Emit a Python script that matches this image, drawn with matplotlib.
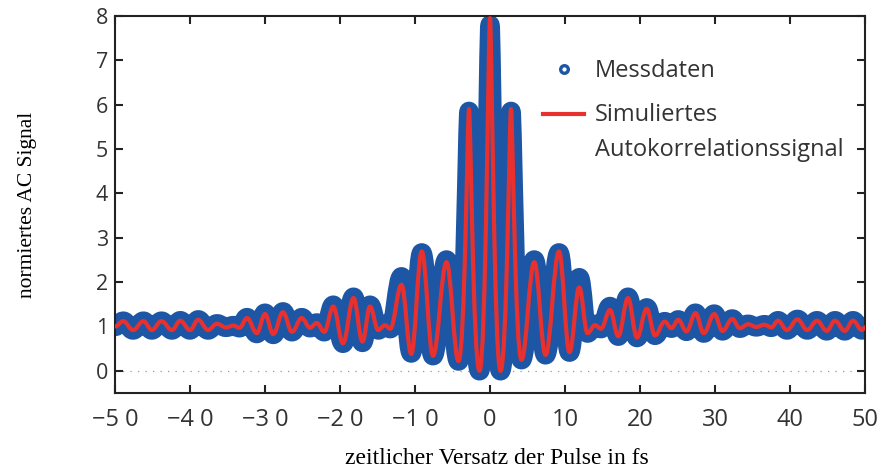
import matplotlib
matplotlib.use("Agg")
import matplotlib.pyplot as plt
from matplotlib.path import Path
from matplotlib.patches import PathPatch
from matplotlib.lines import Line2D
from matplotlib.legend_handler import HandlerLine2D

# ---------------- data ----------------
# extrema of the simulated autocorrelation signal (time delay in fs, normalised signal)
sim_x = [-50.0, -48.9, -47.6, -46.2, -45.1, -43.8, -42.4, -41.3, -40.0, -38.9,
         -37.6, -36.4, -35.2, -34.2, -33.4, -32.4, -31.1, -30.0, -28.9, -27.6,
         -26.4, -25.1, -24.0, -23.1, -22.1, -20.9, -19.6, -18.2, -17.0, -16.0,
         -14.9, -14.0, -13.3, -11.8, -10.5, -9.1, -7.6, -5.8, -4.2, -2.8,
         -1.4, 0.0, 1.4, 2.8, 4.2, 5.9, 7.4, 9.2, 10.6, 11.9,
         13.0, 14.0, 14.8, 16.0, 17.1, 18.4, 19.6, 20.9, 22.0, 23.3,
         24.2, 25.1, 26.2, 27.4, 28.5, 29.9, 31.0, 32.3, 33.3, 34.4,
         35.5, 36.6, 37.5, 38.4, 39.6, 41.0, 42.3, 43.6, 44.9, 46.0,
         47.3, 48.4, 49.6, 50.0]
sim_y = [1.00, 1.12, 0.92, 1.12, 0.92, 1.12, 0.92, 1.13, 0.92, 1.15,
         0.92, 1.06, 0.98, 1.02, 0.97, 1.19, 0.85, 1.28, 0.83, 1.32,
         0.88, 1.19, 0.97, 1.08, 0.88, 1.45, 0.62, 1.64, 0.66, 1.45,
         0.92, 1.03, 0.95, 1.94, 0.38, 2.69, 0.34, 2.45, 0.22, 5.90,
         0.00, 7.95, 0.00, 5.90, 0.25, 2.45, 0.36, 2.69, 0.42, 1.88,
         0.85, 1.03, 0.95, 1.37, 0.78, 1.64, 0.75, 1.40, 0.80, 1.11,
         0.96, 1.15, 0.89, 1.30, 0.85, 1.28, 0.90, 1.17, 0.96, 1.05,
         0.99, 1.04, 0.98, 1.13, 0.92, 1.16, 0.92, 1.13, 0.90, 1.13,
         0.90, 1.13, 0.92, 0.98]

# measured data (same delay positions, values of the blue points)
meas_x = list(sim_x)
meas_y = [1.00, 1.12, 0.92, 1.12, 0.92, 1.12, 0.92, 1.13, 0.92, 1.15,
          0.92, 1.06, 0.98, 1.02, 0.97, 1.20, 0.84, 1.30, 0.82, 1.33,
          0.88, 1.20, 0.97, 1.08, 0.88, 1.48, 0.62, 1.66, 0.64, 1.48,
          0.92, 1.05, 0.95, 2.12, 0.40, 2.66, 0.34, 2.50, 0.22, 5.85,
          0.00, 7.80, 0.00, 5.85, 0.25, 2.50, 0.36, 2.66, 0.42, 2.10,
          0.85, 1.05, 0.95, 1.45, 0.78, 1.66, 0.75, 1.42, 0.80, 1.11,
          0.96, 1.15, 0.89, 1.30, 0.85, 1.28, 0.90, 1.17, 0.96, 1.05,
          0.99, 1.04, 0.98, 1.13, 0.92, 1.16, 0.92, 1.13, 0.90, 1.13,
          0.90, 1.13, 0.92, 0.98]

x_ticks = [-50, -40, -30, -20, -10, 0, 10, 20, 30, 40, 50]
x_tick_labels = ["\u22125 0", "\u22124 0", "\u22123 0", "\u22122 0", "\u22121 0",
                 "0", "10", "20", "30", "40", "50"]
y_ticks = [0, 1, 2, 3, 4, 5, 6, 7, 8]

legend_labels = ["Messdaten", "Simuliertes\nAutokorrelationssignal"]
x_label = "zeitlicher Versatz der Pulse in fs"
y_label = "normiertes AC Signal"

# ---------------- style ----------------
BLUE = "#1d56a5"
RED = "#e8312f"
TXT = "#333333"
SANS = ["Open Sans", "DejaVu Sans"]
SERIF = ["Liberation Serif", "DejaVu Serif"]


def smooth_path(xs, ys):
    """Bezier path through extrema with horizontal tangents."""
    verts = [(xs[0], ys[0])]
    codes = [Path.MOVETO]
    for i in range(len(xs) - 1):
        x0, y0, x1, y1 = xs[i], ys[i], xs[i + 1], ys[i + 1]
        dx = x1 - x0
        if abs(y1 - y0) > 3:          # tall interference fringes: sharp tops
            k_high, k_low = 0.15, 0.6
        else:                         # small fringes: sine-like
            k_high, k_low = 0.38, 0.38
        k0 = k_high if y0 > y1 else k_low
        k1 = k_high if y1 > y0 else k_low
        verts += [(x0 + k0 * dx, y0), (x1 - k1 * dx, y1), (x1, y1)]
        codes += [Path.CURVE4] * 3
    return Path(verts, codes)


class RaisedLineHandler(HandlerLine2D):
    """Put the line handle next to the first line of a two-line label."""
    def __init__(self, raise_pt, **kw):
        super().__init__(**kw)
        self.raise_pt = raise_pt

    def create_artists(self, legend, orig_handle, xdescent, ydescent,
                       width, height, fontsize, trans):
        arts = super().create_artists(legend, orig_handle, xdescent, ydescent,
                                      width, height, fontsize, trans)
        for a in arts:
            a.set_ydata([y + self.raise_pt for y in a.get_ydata()])
        return arts


fig = plt.figure(figsize=(8.79, 4.68), dpi=100)
ax = fig.add_axes([115 / 879, 1 - 393 / 468, 750 / 879, 377 / 468])

ax.axhline(0, color="#999999", lw=0.9, ls=(0, (1, 5)), zorder=1)

# measured data: dense blue band + ring markers
ax.add_patch(PathPatch(smooth_path(meas_x, meas_y), facecolor="none",
                       edgecolor=BLUE, lw=14, capstyle="round",
                       joinstyle="round", zorder=2))
meas_line, = ax.plot(meas_x, meas_y, "o", ms=8, mfc="none", mec=BLUE,
                     mew=2.4, zorder=2.1)

# simulated signal
ax.add_patch(PathPatch(smooth_path(sim_x, sim_y), facecolor="none",
                       edgecolor=RED, lw=3.0, capstyle="round",
                       joinstyle="round", zorder=3))

ax.set_xlim(-50, 50)
ax.set_ylim(-0.5, 8)
ax.set_xticks(x_ticks)
ax.set_xticklabels(x_tick_labels)
ax.set_yticks(y_ticks)

for sp in ax.spines.values():
    sp.set_linewidth(1.5)
    sp.set_color("#222222")
ax.tick_params(direction="in", length=5.5, width=1.5, color="#222222",
               top=True, right=True, labelcolor=TXT)
ax.tick_params(axis="x", pad=11, labelsize=17)
ax.tick_params(axis="y", pad=5, labelsize=15.5)
for lab in ax.get_xticklabels() + ax.get_yticklabels():
    lab.set_family(SANS)

ax.set_xlabel(x_label, family=SERIF, fontsize=17, color="black")
ax.xaxis.set_label_coords((497 - 115) / 750, (393 - 458) / 377)
ax.xaxis.label.set_va("center")
ax.set_ylabel(y_label, family=SERIF, fontsize=15.5, color="black")
ax.yaxis.set_label_coords((27 - 115) / 750, 0.5)
ax.yaxis.label.set_va("center")

sim_handle = Line2D([], [], color=RED, lw=3.0)
meas_handle = Line2D([], [], ls="none", marker="o", ms=5.5, mfc="none",
                     mec=BLUE, mew=2.4)
leg = ax.legend([meas_handle, sim_handle], legend_labels, loc="upper left",
                bbox_to_anchor=((543 - 115) / 750, (393 - 59) / 377),
                frameon=False, prop={"family": SANS, "size": 17},
                handlelength=1.75, handletextpad=0.45, labelspacing=0.85,
                borderaxespad=0, borderpad=0,
                handler_map={sim_handle: RaisedLineHandler(13.5)})
for t in leg.get_texts():
    t.set_color(TXT)
    t.set_linespacing(1.6)

fig.savefig("out.png", dpi=100)
